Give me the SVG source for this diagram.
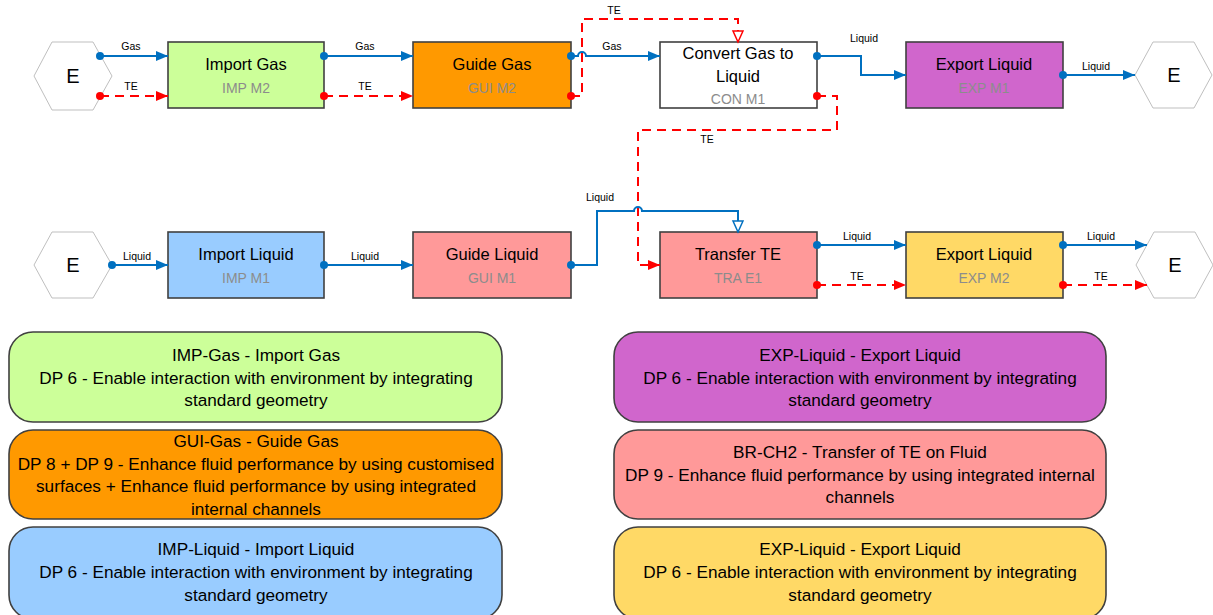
<svg xmlns="http://www.w3.org/2000/svg" width="1213" height="615" viewBox="0 0 1213 615">
<style>
text{font-family:"Liberation Sans",Arial,sans-serif;text-anchor:middle;dominant-baseline:central;fill:#000}
.node{stroke:#404040;stroke-width:1.6}
.hex{fill:#fff;stroke:#bfbfbf;stroke-width:1}
.t{font-size:16.5px}
.s{font-size:14px;fill:#8c8c8c}
.e{font-size:20px}
.lb{font-size:10.5px}
.lg{font-size:17.2px}
.blue{fill:none;stroke:#0070c0;stroke-width:2}
.red{fill:none;stroke:#ff0000;stroke-width:2;stroke-dasharray:9 6}
.bd{fill:#0070c0}
.rd{fill:#ff0000}
.leg{stroke:#404040;stroke-width:1.6}
</style>
<defs>
<marker id="ab" markerUnits="userSpaceOnUse" markerWidth="12" markerHeight="10" refX="12" refY="5" orient="auto"><path d="M0,0 L12,5 L0,10 Z" fill="#0070c0"/></marker>
<marker id="ar" markerUnits="userSpaceOnUse" markerWidth="12" markerHeight="10" refX="12" refY="5" orient="auto"><path d="M0,0 L12,5 L0,10 Z" fill="#ff0000"/></marker>
<marker id="ob" markerUnits="userSpaceOnUse" markerWidth="14" markerHeight="14" refX="12" refY="6" orient="auto"><path d="M1,1 L12,6 L1,11 Z" fill="#fff" stroke="#0070c0" stroke-width="1.5"/></marker>
<marker id="or" markerUnits="userSpaceOnUse" markerWidth="14" markerHeight="14" refX="12" refY="6" orient="auto"><path d="M1,1 L12,6 L1,11 Z" fill="#fff" stroke="#ff0000" stroke-width="1.5"/></marker>
</defs>
<rect width="1213" height="615" fill="#fff"/>

<g id="env1"><polygon class="hex" points="34,76 52,42 93,42 112,76 93,110 52,110"/><text class="e" x="73" y="76">E</text></g>
<g id="env2"><polygon class="hex" points="1135,75 1153,42 1194,42 1212,75 1194,108 1153,108"/><text class="e" x="1174" y="75">E</text></g>
<g id="env3"><polygon class="hex" points="34,265 52,232 93,232 112,265 93,298 52,298"/><text class="e" x="73" y="265">E</text></g>
<g id="env4"><polygon class="hex" points="1136,265 1154,232 1195,232 1213,265 1195,298 1154,298"/><text class="e" x="1175" y="265">E</text></g>

<g id="imp-gas"><rect class="node" x="168" y="42" width="156" height="66" fill="#ccff99"/><text class="t" x="246" y="64">Import Gas</text><text class="s" x="246" y="88">IMP M2</text></g>
<g id="gui-gas"><rect class="node" x="413" y="42" width="158" height="66" fill="#ff9900"/><text class="t" x="492" y="64">Guide Gas</text><text class="s" x="492" y="88">GUI M2</text></g>
<g id="con"><rect class="node" x="660" y="42" width="157" height="66" fill="#ffffff"/><text class="t" x="738" y="53">Convert Gas to</text><text class="t" x="738" y="76">Liquid</text><text class="s" x="738" y="99">CON M1</text></g>
<g id="exp1"><rect class="node" x="906" y="42" width="157" height="66" fill="#d066cc"/><text class="t" x="984" y="64">Export Liquid</text><text class="s" x="984" y="88">EXP M1</text></g>

<g id="imp-liq"><rect class="node" x="168" y="232" width="156" height="66" fill="#99ccff"/><text class="t" x="246" y="254">Import Liquid</text><text class="s" x="246" y="278">IMP M1</text></g>
<g id="gui-liq"><rect class="node" x="413" y="232" width="158" height="66" fill="#ff9999"/><text class="t" x="492" y="254">Guide Liquid</text><text class="s" x="492" y="278">GUI M1</text></g>
<g id="tra"><rect class="node" x="660" y="232" width="157" height="66" fill="#ff9999"/><text class="t" x="738" y="254">Transfer TE</text><text class="s" x="738" y="278">TRA E1</text></g>
<g id="exp2"><rect class="node" x="906" y="232" width="157" height="66" fill="#ffd966"/><text class="t" x="984" y="254">Export Liquid</text><text class="s" x="984" y="278">EXP M2</text></g>

<g id="connectors">
<path class="blue" d="M100,56 H168" marker-end="url(#ab)"/>
<path class="red" d="M100,96 H168" marker-end="url(#ar)"/>
<path class="blue" d="M324,56 H413" marker-end="url(#ab)"/>
<path class="red" d="M324,96 H413" marker-end="url(#ar)"/>
<path class="blue" d="M571,56 H578 a4,4 0 0 1 8,0 H660" marker-end="url(#ab)"/>
<path class="red" d="M571,96 H582 V19 H738 V42" marker-end="url(#or)"/>
<path class="blue" d="M817,56 H861 V75 H906" marker-end="url(#ab)"/>
<path class="red" d="M817,96 H837 V130 H638 V265 H660" marker-end="url(#ar)"/>
<path class="blue" d="M1063,75 H1135" marker-end="url(#ab)"/>
<path class="blue" d="M112,265 H168" marker-end="url(#ab)"/>
<path class="blue" d="M324,265 H413" marker-end="url(#ab)"/>
<path class="blue" d="M571,265 H597 V211 H634 a4,4 0 0 1 8,0 H738 V232" marker-end="url(#ob)"/>
<path class="blue" d="M817,245 H906" marker-end="url(#ab)"/>
<path class="red" d="M817,285 H906" marker-end="url(#ar)"/>
<path class="blue" d="M1063,245 H1147" marker-end="url(#ab)"/>
<path class="red" d="M1063,285 H1147" marker-end="url(#ar)"/>
<circle class="bd" cx="100" cy="56" r="4"/><circle class="rd" cx="100" cy="96" r="4"/>
<circle class="bd" cx="324" cy="56" r="4"/><circle class="rd" cx="324" cy="96" r="4"/>
<circle class="bd" cx="571" cy="56" r="4"/><circle class="rd" cx="571" cy="96" r="4"/>
<circle class="bd" cx="817" cy="56" r="4"/><circle class="rd" cx="817" cy="96" r="4"/>
<circle class="bd" cx="1063" cy="75" r="4"/>
<circle class="bd" cx="112" cy="265" r="4"/><circle class="bd" cx="324" cy="265" r="4"/>
<circle class="bd" cx="571" cy="265" r="4"/>
<circle class="bd" cx="817" cy="245" r="4"/><circle class="rd" cx="817" cy="285" r="4"/>
<circle class="bd" cx="1063" cy="245" r="4"/><circle class="rd" cx="1063" cy="285" r="4"/>
<text class="lb" x="131" y="46">Gas</text><text class="lb" x="131" y="86">TE</text>
<text class="lb" x="365" y="46">Gas</text><text class="lb" x="365" y="86">TE</text>
<text class="lb" x="612" y="46">Gas</text><text class="lb" x="614" y="10">TE</text>
<text class="lb" x="864" y="38">Liquid</text><text class="lb" x="707" y="139">TE</text>
<text class="lb" x="1096" y="66">Liquid</text>
<text class="lb" x="137" y="256">Liquid</text><text class="lb" x="365" y="256">Liquid</text>
<text class="lb" x="600" y="197">Liquid</text>
<text class="lb" x="857" y="236">Liquid</text><text class="lb" x="857" y="276">TE</text>
<text class="lb" x="1101" y="236">Liquid</text><text class="lb" x="1101" y="276">TE</text>
</g>

<g id="legend-imp-gas"><rect class="leg" x="9" y="332" width="493" height="90" rx="24" fill="#ccff99"/>
<text class="lg" x="256" y="355">IMP-Gas - Import Gas</text><text class="lg" x="256" y="378">DP 6 - Enable interaction with environment by integrating</text><text class="lg" x="256" y="400">standard geometry</text></g>
<g id="legend-gui-gas"><rect class="leg" x="9" y="430" width="493" height="89" rx="24" fill="#ff9900"/>
<text class="lg" x="256" y="441">GUI-Gas - Guide Gas</text><text class="lg" x="256" y="464">DP 8 + DP 9 - Enhance fluid performance by using customised</text><text class="lg" x="256" y="486">surfaces + Enhance fluid performance by using integrated</text><text class="lg" x="256" y="509">internal channels</text></g>
<g id="legend-imp-liq"><rect class="leg" x="9" y="527" width="493" height="92" rx="24" fill="#99ccff"/>
<text class="lg" x="256" y="549">IMP-Liquid - Import Liquid</text><text class="lg" x="256" y="572">DP 6 - Enable interaction with environment by integrating</text><text class="lg" x="256" y="595">standard geometry</text></g>
<g id="legend-exp1"><rect class="leg" x="614" y="332" width="492" height="90" rx="24" fill="#d066cc"/>
<text class="lg" x="860" y="355">EXP-Liquid - Export Liquid</text><text class="lg" x="860" y="378">DP 6 - Enable interaction with environment by integrating</text><text class="lg" x="860" y="400">standard geometry</text></g>
<g id="legend-tra"><rect class="leg" x="614" y="430" width="492" height="89" rx="24" fill="#ff9999"/>
<text class="lg" x="860" y="452">BR-CH2 - Transfer of TE on Fluid</text><text class="lg" x="860" y="475">DP 9 - Enhance fluid performance by using integrated internal</text><text class="lg" x="860" y="497">channels</text></g>
<g id="legend-exp2"><rect class="leg" x="614" y="527" width="492" height="92" rx="24" fill="#ffd966"/>
<text class="lg" x="860" y="549">EXP-Liquid - Export Liquid</text><text class="lg" x="860" y="572">DP 6 - Enable interaction with environment by integrating</text><text class="lg" x="860" y="595">standard geometry</text></g>
</svg>
